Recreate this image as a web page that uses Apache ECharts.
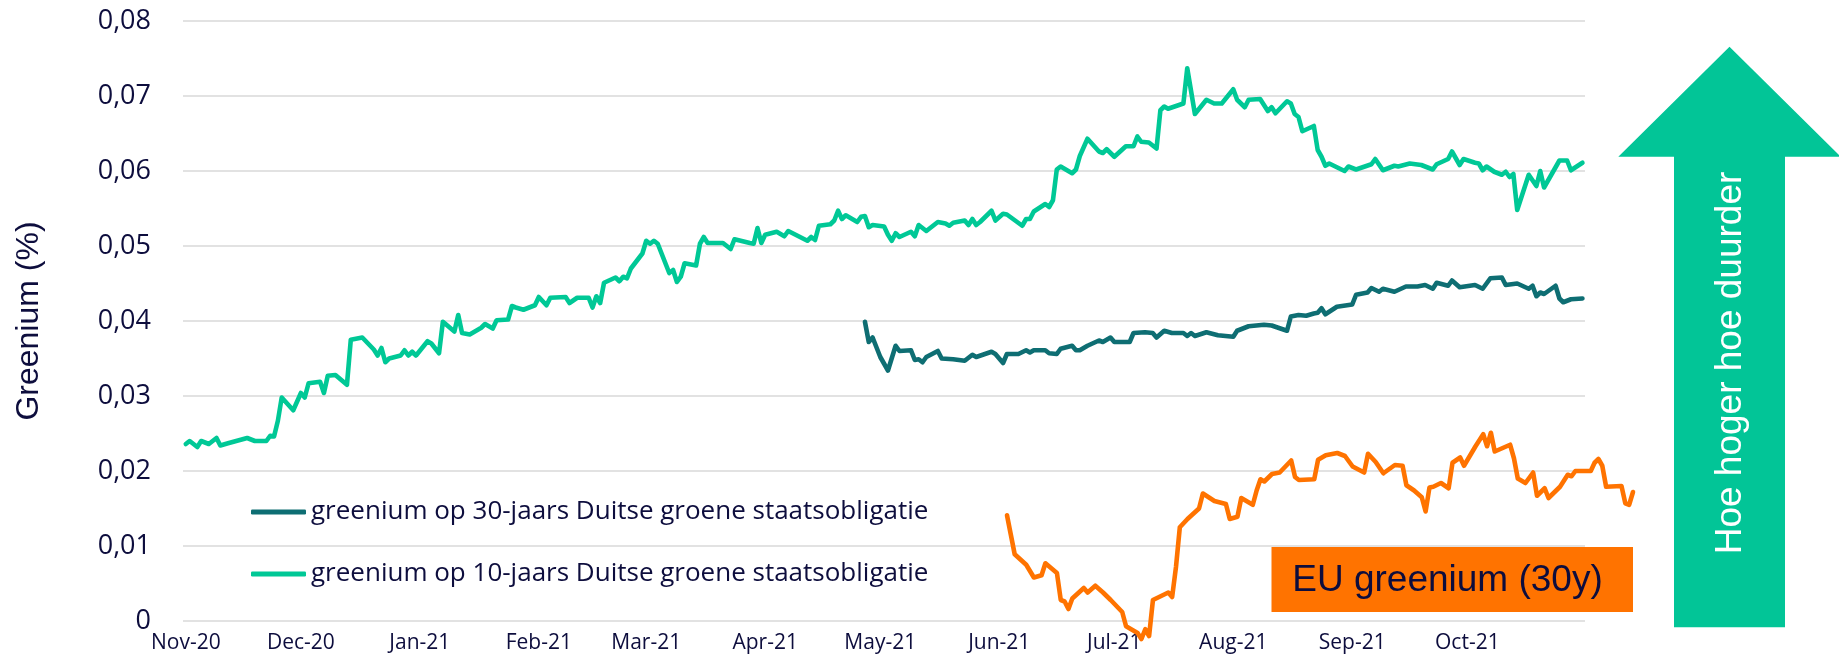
<!DOCTYPE html>
<html>
<head>
<meta charset="utf-8">
<script src="https://cdn.jsdelivr.net/npm/echarts@6/dist/echarts.min.js"></script>
<style>
html,body{margin:0;padding:0;background:#ffffff;}
#chart{width:1839px;height:660px;}
</style>
</head>
<body>
<div id="chart"></div>
<script>
// ---------- data ----------
const monthStarts = ['2020-11-01','2020-12-01','2021-01-01','2021-02-01','2021-03-01','2021-04-01','2021-05-01','2021-06-01','2021-07-01','2021-08-01','2021-09-01','2021-10-01'];
const tickLabels = ['Nov-20','Dec-20','Jan-21','Feb-21','Mar-21','Apr-21','May-21','Jun-21','Jul-21','Aug-21','Sep-21','Oct-21'];

const yMin = 0, yMax = 0.08, yStep = 0.01;

const name30 = 'greenium op 30-jaars Duitse groene staatsobligatie';
const name10 = 'greenium op 10-jaars Duitse groene staatsobligatie';
const nameEU = 'EU greenium (30y)';

const dates10 = [
'2020-11-01','2020-11-02','2020-11-04','2020-11-05','2020-11-07','2020-11-09','2020-11-10','2020-11-12','2020-11-17','2020-11-19',
'2020-11-22','2020-11-23','2020-11-24','2020-11-25','2020-11-26','2020-11-29','2020-12-01','2020-12-02','2020-12-03','2020-12-06',
'2020-12-07','2020-12-08','2020-12-10','2020-12-13','2020-12-14','2020-12-17','2020-12-20','2020-12-21','2020-12-22','2020-12-23',
'2020-12-24','2020-12-27','2020-12-28','2020-12-29','2020-12-30','2020-12-31','2021-01-03','2021-01-04','2021-01-06','2021-01-07',
'2021-01-10','2021-01-11','2021-01-12','2021-01-14','2021-01-17','2021-01-18','2021-01-20','2021-01-21','2021-01-24','2021-01-25',
'2021-01-26','2021-01-28','2021-01-31','2021-02-01','2021-02-03','2021-02-04','2021-02-08','2021-02-09','2021-02-11','2021-02-14',
'2021-02-15','2021-02-16','2021-02-17','2021-02-18','2021-02-21','2021-02-22','2021-02-23','2021-02-24','2021-02-25','2021-02-28',
'2021-03-01','2021-03-02','2021-03-03','2021-03-04','2021-03-07','2021-03-08','2021-03-09','2021-03-10','2021-03-11','2021-03-14',
'2021-03-15','2021-03-16','2021-03-17','2021-03-21','2021-03-23','2021-03-24','2021-03-28','2021-03-29','2021-03-30','2021-03-31',
'2021-04-01','2021-04-04','2021-04-06','2021-04-07','2021-04-12','2021-04-13','2021-04-14','2021-04-15','2021-04-18','2021-04-19',
'2021-04-20','2021-04-21','2021-04-22','2021-04-25','2021-04-26','2021-04-27','2021-04-28','2021-04-29','2021-05-02','2021-05-03',
'2021-05-04','2021-05-05','2021-05-06','2021-05-09','2021-05-10','2021-05-11','2021-05-13','2021-05-16','2021-05-18','2021-05-19',
'2021-05-20','2021-05-23','2021-05-24','2021-05-25','2021-05-26','2021-05-27','2021-05-30','2021-05-31','2021-06-02','2021-06-03',
'2021-06-07','2021-06-08','2021-06-09','2021-06-10','2021-06-13','2021-06-14','2021-06-15','2021-06-16','2021-06-17','2021-06-20',
'2021-06-21','2021-06-22','2021-06-24','2021-06-27','2021-06-28','2021-06-29','2021-07-01','2021-07-04','2021-07-06','2021-07-07',
'2021-07-08','2021-07-10','2021-07-12','2021-07-13','2021-07-14','2021-07-15','2021-07-19','2021-07-20','2021-07-22','2021-07-25',
'2021-07-27','2021-07-29','2021-08-01','2021-08-02','2021-08-04','2021-08-05','2021-08-08','2021-08-10','2021-08-11','2021-08-12',
'2021-08-15','2021-08-16','2021-08-17','2021-08-18','2021-08-19','2021-08-22','2021-08-23','2021-08-24','2021-08-25','2021-08-26',
'2021-08-30','2021-08-31','2021-09-02','2021-09-06','2021-09-07','2021-09-09','2021-09-12','2021-09-13','2021-09-16','2021-09-19',
'2021-09-22','2021-09-23','2021-09-26','2021-09-27','2021-09-29','2021-09-30','2021-10-03','2021-10-04','2021-10-05','2021-10-06',
'2021-10-08','2021-10-10','2021-10-11','2021-10-12','2021-10-13','2021-10-14','2021-10-17','2021-10-19','2021-10-20','2021-10-21',
'2021-10-25','2021-10-27','2021-10-28','2021-10-31'];
const values10 = [
0.0236,0.0240,0.0232,0.0240,0.0236,0.0244,0.0234,0.0237,0.0244,0.0240,
0.0240,0.0247,0.0246,0.0267,0.0298,0.0281,0.0304,0.0298,0.0317,0.0319,
0.0304,0.0327,0.0328,0.0315,0.0375,0.0378,0.0362,0.0354,0.0364,0.0345,
0.0350,0.0354,0.0361,0.0354,0.0359,0.0354,0.0373,0.0370,0.0357,0.0399,
0.0386,0.0408,0.0384,0.0382,0.0391,0.0396,0.0390,0.0401,0.0402,0.0420,
0.0418,0.0415,0.0421,0.0432,0.0421,0.0431,0.0432,0.0424,0.0431,0.0431,
0.0418,0.0433,0.0424,0.0451,0.0458,0.0453,0.0459,0.0457,0.0470,0.0490,
0.0507,0.0503,0.0507,0.0503,0.0464,0.0468,0.0452,0.0459,0.0477,0.0474,
0.0503,0.0512,0.0504,0.0504,0.0496,0.0509,0.0504,0.0503,0.0524,0.0504,
0.0515,0.0519,0.0513,0.0520,0.0507,0.0512,0.0508,0.0527,0.0529,0.0534,
0.0547,0.0536,0.0541,0.0532,0.0539,0.0540,0.0525,0.0528,0.0526,0.0515,
0.0507,0.0517,0.0512,0.0519,0.0513,0.0528,0.0520,0.0532,0.0530,0.0527,
0.0531,0.0534,0.0528,0.0536,0.0528,0.0532,0.0547,0.0534,0.0543,0.0542,
0.0527,0.0536,0.0536,0.0546,0.0556,0.0552,0.0561,0.0602,0.0606,0.0597,
0.0602,0.0620,0.0643,0.0626,0.0624,0.0629,0.0619,0.0633,0.0633,0.0646,
0.0639,0.0638,0.0630,0.0681,0.0686,0.0683,0.0690,0.0737,0.0676,0.0695,
0.0690,0.0690,0.0709,0.0695,0.0685,0.0695,0.0696,0.0680,0.0685,0.0677,
0.0693,0.0690,0.0676,0.0672,0.0653,0.0660,0.0628,0.0619,0.0607,0.0610,
0.0600,0.0606,0.0602,0.0609,0.0616,0.0601,0.0607,0.0606,0.0610,0.0608,
0.0602,0.0609,0.0616,0.0626,0.0608,0.0616,0.0611,0.0610,0.0601,0.0606,
0.0599,0.0595,0.0599,0.0592,0.0596,0.0548,0.0595,0.0580,0.0600,0.0578,
0.0614,0.0614,0.0601,0.0611];

const dates30 = [
'2021-04-27','2021-04-28','2021-04-29','2021-05-01','2021-05-03','2021-05-05','2021-05-06','2021-05-09','2021-05-10','2021-05-11',
'2021-05-12','2021-05-13','2021-05-16','2021-05-17','2021-05-20','2021-05-23','2021-05-25','2021-05-26','2021-05-30','2021-05-31',
'2021-06-02','2021-06-03','2021-06-06','2021-06-08','2021-06-09','2021-06-10','2021-06-13','2021-06-14','2021-06-16','2021-06-17',
'2021-06-20','2021-06-21','2021-06-22','2021-06-24','2021-06-27','2021-06-28','2021-06-30','2021-07-01','2021-07-05','2021-07-06',
'2021-07-09','2021-07-11','2021-07-12','2021-07-14','2021-07-16','2021-07-19','2021-07-20','2021-07-21','2021-07-22','2021-07-25',
'2021-07-28','2021-08-01','2021-08-02','2021-08-05','2021-08-09','2021-08-11','2021-08-15','2021-08-16','2021-08-18','2021-08-20',
'2021-08-22','2021-08-23','2021-08-24','2021-08-25','2021-08-28','2021-09-01','2021-09-02','2021-09-05','2021-09-06','2021-09-08',
'2021-09-09','2021-09-12','2021-09-15','2021-09-18','2021-09-20','2021-09-22','2021-09-23','2021-09-26','2021-09-27','2021-09-29',
'2021-10-03','2021-10-05','2021-10-07','2021-10-10','2021-10-11','2021-10-14','2021-10-17','2021-10-18','2021-10-19','2021-10-20',
'2021-10-21','2021-10-24','2021-10-25','2021-10-26','2021-10-28','2021-10-31'];
const values30 = [
0.0399,0.0372,0.0378,0.0352,0.0334,0.0367,0.0360,0.0361,0.0348,0.0349,
0.0345,0.0352,0.0360,0.0350,0.0349,0.0347,0.0355,0.0352,0.0359,0.0356,
0.0344,0.0356,0.0356,0.0361,0.0358,0.0361,0.0361,0.0357,0.0356,0.0363,
0.0367,0.0361,0.0361,0.0367,0.0374,0.0372,0.0378,0.0372,0.0372,0.0384,
0.0385,0.0384,0.0378,0.0387,0.0384,0.0384,0.0380,0.0384,0.0380,0.0385,
0.0381,0.0379,0.0387,0.0393,0.0395,0.0394,0.0387,0.0406,0.0408,0.0407,
0.0410,0.0411,0.0417,0.0409,0.0419,0.0422,0.0435,0.0438,0.0444,0.0439,
0.0443,0.0439,0.0446,0.0446,0.0448,0.0443,0.0451,0.0447,0.0454,0.0445,
0.0448,0.0443,0.0457,0.0458,0.0448,0.0450,0.0443,0.0447,0.0433,0.0438,
0.0436,0.0447,0.0430,0.0425,0.0429,0.0430];

const datesEU = [
'2021-06-03','2021-06-04','2021-06-05','2021-06-08','2021-06-10','2021-06-12','2021-06-13','2021-06-16','2021-06-17','2021-06-18',
'2021-06-19','2021-06-20','2021-06-23','2021-06-24','2021-06-26','2021-06-28','2021-06-30','2021-07-03','2021-07-04','2021-07-07',
'2021-07-08','2021-07-09','2021-07-10','2021-07-11','2021-07-13','2021-07-15','2021-07-16','2021-07-17','2021-07-18','2021-07-20',
'2021-07-23','2021-07-24','2021-07-27','2021-07-30','2021-07-31','2021-08-02','2021-08-03','2021-08-06','2021-08-07','2021-08-08',
'2021-08-09','2021-08-11','2021-08-13','2021-08-16','2021-08-17','2021-08-18','2021-08-22','2021-08-23','2021-08-25','2021-08-28',
'2021-08-30','2021-09-01','2021-09-04','2021-09-05','2021-09-07','2021-09-09','2021-09-12','2021-09-14','2021-09-15','2021-09-17',
'2021-09-19','2021-09-20','2021-09-21','2021-09-22','2021-09-24','2021-09-26','2021-09-27','2021-09-29','2021-09-30','2021-10-03',
'2021-10-05','2021-10-06','2021-10-07','2021-10-08','2021-10-12','2021-10-13','2021-10-14','2021-10-16','2021-10-18','2021-10-19',
'2021-10-21','2021-10-22','2021-10-25','2021-10-27','2021-10-28','2021-10-29','2021-11-02','2021-11-03','2021-11-04','2021-11-05',
'2021-11-06','2021-11-10','2021-11-11','2021-11-12','2021-11-13'];
const valuesEU = [
0.0141,0.0115,0.0089,0.0075,0.0058,0.0061,0.0077,0.0064,0.0028,0.0026,
0.0016,0.0030,0.0044,0.0038,0.0047,0.0038,0.0028,0.0012,-0.0007,-0.0016,
-0.0024,-0.0011,-0.0020,0.0028,0.0033,0.0038,0.0032,0.0072,0.0125,0.0136,
0.0150,0.0170,0.0160,0.0156,0.0136,0.0139,0.0164,0.0155,0.0174,0.0189,
0.0186,0.0196,0.0198,0.0214,0.0192,0.0188,0.0189,0.0215,0.0221,0.0224,
0.0220,0.0206,0.0198,0.0223,0.0212,0.0197,0.0208,0.0207,0.0181,0.0174,
0.0165,0.0146,0.0178,0.0179,0.0184,0.0177,0.0211,0.0218,0.0207,0.0233,
0.0249,0.0233,0.0251,0.0226,0.0235,0.0217,0.0190,0.0184,0.0198,0.0167,
0.0177,0.0164,0.0179,0.0195,0.0193,0.0200,0.0200,0.0211,0.0216,0.0207,
0.0179,0.0180,0.0157,0.0155,0.0172];

// ---------- helpers ----------
function parseLocal(s) {
  const p = s.split('-');
  return new Date(+p[0], +p[1] - 1, +p[2]).getTime();
}
function pairs(dates, vals) {
  return dates.map((d, i) => [parseLocal(d), vals[i]]);
}
const monthStamps = monthStarts.map(parseLocal);
const axisStart = new Date(2020, 9, 31, 6, 30).getTime();
const axisEnd = new Date(2021, 9, 31, 16, 0).getTime();
const euStart = parseLocal(datesEU[0]);
const euEnd = parseLocal(datesEU[datesEU.length - 1]);

const NAVY = '#0d0d3d';
const GREEN = '#00c896';
const TEAL = '#0e6e73';
const ORANGE = '#ff7300';
const LINE_W = 4.6;

const chart = echarts.init(document.getElementById('chart'), null, {renderer: 'canvas'});

const legendBase = {
  orient: 'horizontal', padding: 0, itemGap: 0,
  itemWidth: 55, itemHeight: 5, icon: 'roundRect', selectedMode: false,
  textStyle: {color: NAVY, fontFamily: '"Open Sans"', fontSize: 26, lineHeight: 30}
};

const option = {
  animation: false,
  backgroundColor: '#ffffff',
  grid: [
    {left: 183, right: 254, top: 21, bottom: 39},
    {left: 1007, right: 206, top: 21, bottom: 39}
  ],
  xAxis: [
    {
      type: 'value', gridIndex: 0, min: axisStart, max: axisEnd,
      axisLine: {show: false}, axisTick: {show: false}, splitLine: {show: false},
      axisLabel: {
        customValues: monthStamps,
        formatter: function (v) {
          let best = 0, bd = Infinity;
          monthStamps.forEach((t, i) => { const dd = Math.abs(t - v); if (dd < bd) { bd = dd; best = i; } });
          return tickLabels[best];
        },
        color: NAVY, fontFamily: '"Open Sans"', fontSize: 21, margin: 12
      }
    },
    {type: 'value', gridIndex: 1, min: euStart, max: euEnd, show: false}
  ],
  yAxis: [
    {
      type: 'value', gridIndex: 0, min: yMin, max: yMax, interval: yStep,
      name: 'Greenium (%)', nameLocation: 'middle', nameGap: 138, nameRotate: 90,
      nameTextStyle: {color: NAVY, fontFamily: '"Liberation Sans", Arial', fontSize: 32},
      axisLine: {show: false}, axisTick: {show: false},
      splitLine: {lineStyle: {color: '#d9d9d9', width: 1.5}},
      axisLabel: {
        formatter: function (v) { return Math.abs(v) < 1e-9 ? '0' : v.toFixed(2).replace('.', ','); },
        color: NAVY, fontFamily: '"Open Sans"', fontSize: 27, margin: 32
      }
    },
    {type: 'value', gridIndex: 1, min: yMin, max: yMax, show: false}
  ],
  legend: [
    Object.assign({}, legendBase, {data: [name30], left: 251, top: 497}),
    Object.assign({}, legendBase, {data: [name10], left: 251, top: 559})
  ],
  series: [
    {
      name: name10, type: 'line', xAxisIndex: 0, yAxisIndex: 0,
      data: pairs(dates10, values10), symbol: 'none', showSymbol: false,
      lineStyle: {color: GREEN, width: LINE_W, cap: 'round', join: 'round'},
      itemStyle: {color: GREEN}, z: 3
    },
    {
      name: name30, type: 'line', xAxisIndex: 0, yAxisIndex: 0,
      data: pairs(dates30, values30), symbol: 'none', showSymbol: false,
      lineStyle: {color: TEAL, width: LINE_W, cap: 'round', join: 'round'},
      itemStyle: {color: TEAL}, z: 3
    },
    {
      name: nameEU, type: 'line', xAxisIndex: 1, yAxisIndex: 1, clip: false,
      data: pairs(datesEU, valuesEU), symbol: 'none', showSymbol: false,
      lineStyle: {color: ORANGE, width: LINE_W, cap: 'round', join: 'round'},
      itemStyle: {color: ORANGE}, z: 3
    }
  ],
  graphic: [
    {
      type: 'polygon', silent: true, z: 1,
      shape: {points: [[1729.5, 46.7], [1840.7, 156.7], [1785, 156.7], [1785, 627.3], [1674, 627.3], [1674, 156.7], [1618.3, 156.7]]},
      style: {fill: '#02c597'}
    },
    {
      type: 'text', silent: true, z: 2, x: 1731, y: 363, rotation: Math.PI / 2,
      style: {text: 'Hoe hoger hoe duurder', fill: '#ffffff', font: '37px "Liberation Sans", Arial', align: 'center', verticalAlign: 'middle'}
    },
    {
      type: 'rect', silent: true, z: 1,
      shape: {x: 1271.5, y: 547, width: 361.5, height: 65},
      style: {fill: '#ff7300'}
    },
    {
      type: 'text', silent: true, z: 2, x: 1447.5, y: 581,
      style: {text: nameEU, fill: NAVY, font: '37px "Liberation Sans", Arial', align: 'center', verticalAlign: 'middle'}
    }
  ]
};
chart.setOption(option);
</script>
</body>
</html>
